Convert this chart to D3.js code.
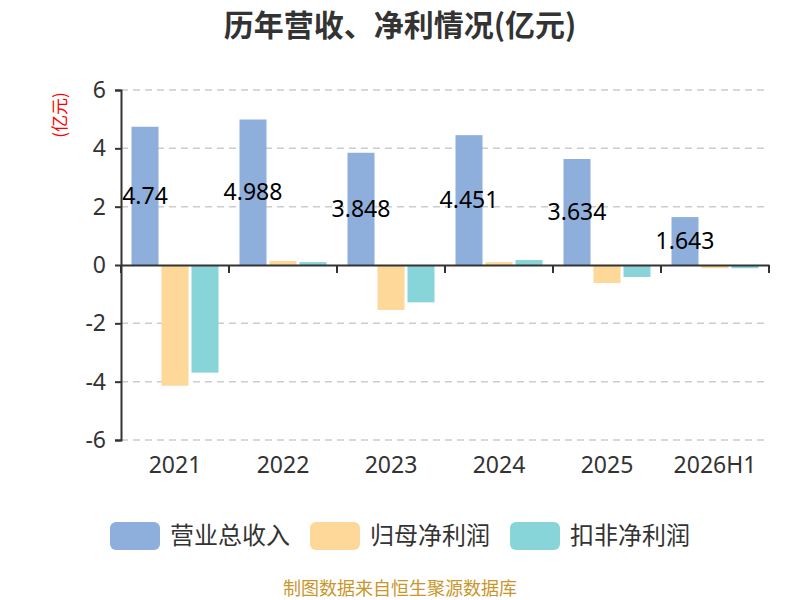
<!DOCTYPE html>
<html>
<head>
<meta charset="utf-8">
<script src="https://cdn.jsdelivr.net/npm/d3@7"></script>
<style>
  body { margin: 0; background: #fff; }
  svg { font-family: "Noto Sans CJK SC", "Noto Sans", sans-serif; }
</style>
</head>
<body>
<svg id="chart" width="800" height="600"></svg>
<script>
const categories = ['2021', '2022', '2023', '2024', '2025', '2026H1']
const seriesNames = ['营业总收入', '归母净利润', '扣非净利润']
const revenue = [4.74, 4.988, 3.848, 4.451, 3.634, 1.643]
const netProfit = [-4.14, 0.14, -1.54, 0.10, -0.62, -0.11]
const deductedProfit = [-3.69, 0.10, -1.28, 0.17, -0.41, -0.11]
const yTicks = [-6, -4, -2, 0, 2, 4, 6]
const colors = ['#8eaedb', '#fed899', '#87d5d8']

const seriesValues = [revenue, netProfit, deductedProfit]
const rows = categories.map((cat, i) => ({cat, values: seriesValues.map(s => s[i])}))

const svg = d3.select('#chart')
const plotLeft = 121, plotRight = 769, plotTop = 90, plotBottom = 440
const numFont = '"Noto Sans", sans-serif'

const x = d3.scaleBand().domain(categories).range([plotLeft, plotRight])
const x1 = d3.scaleBand().domain(d3.range(seriesNames.length))
  .range([10.5, x.bandwidth() - 10.5]).paddingInner(0.1)
const y = d3.scaleLinear().domain([-6, 6]).range([plotBottom, plotTop])

// grid
svg.append('g').selectAll('line').data(yTicks.filter(d => d !== 0)).join('line')
  .attr('x1', plotLeft).attr('x2', plotRight)
  .attr('y1', d => y(d)).attr('y2', d => y(d))
  .attr('stroke', '#ccc').attr('stroke-width', 1.5).attr('stroke-dasharray', '7,5')

// bars
const groups = svg.append('g').selectAll('g').data(rows).join('g')
  .attr('transform', d => `translate(${x(d.cat)},0)`)
groups.selectAll('rect').data(d => d.values).join('rect')
  .attr('x', (d, i) => x1(i))
  .attr('width', x1.bandwidth())
  .attr('y', d => y(Math.max(0, d)))
  .attr('height', d => Math.abs(y(d) - y(0)))
  .attr('fill', (d, i) => colors[i])

// labels for revenue
svg.append('g').selectAll('text').data(rows).join('text')
  .attr('x', d => x(d.cat) + x1(0) + x1.bandwidth() / 2)
  .attr('y', d => (y(d.values[0]) + y(0)) / 2)
  .attr('dy', '0.35em')
  .attr('text-anchor', 'middle')
  .attr('font-size', 23).attr('fill', '#000').attr('font-family', numFont)
  .text(d => d.values[0])

// y axis
const yAxis = svg.append('g').attr('transform', `translate(${plotLeft},0)`)
  .call(d3.axisLeft(y).tickValues(yTicks).tickSize(6).tickPadding(9).tickFormat(d => String(d)))
yAxis.select('.domain').attr('stroke', '#333').attr('stroke-width', 2)
yAxis.selectAll('.tick line').attr('stroke', '#333').attr('stroke-width', 2)
yAxis.selectAll('.tick text').attr('font-size', 23).attr('fill', '#333')
  .attr('font-family', numFont)

// x axis at zero
const xAxis = svg.append('g').attr('transform', `translate(0,${y(0)})`)
  .call(d3.axisBottom(x).tickSize(0).tickFormat(''))
xAxis.select('.domain').attr('stroke', '#333').attr('stroke-width', 2)
svg.append('g').selectAll('line').data(d3.range(categories.length + 1)).join('line')
  .attr('x1', i => plotLeft + i * x.step()).attr('x2', i => plotLeft + i * x.step())
  .attr('y1', y(0)).attr('y2', y(0) + 8)
  .attr('stroke', '#333').attr('stroke-width', 2)
svg.append('g').selectAll('text').data(categories).join('text')
  .attr('x', d => x(d) + x.bandwidth() / 2)
  .attr('y', plotBottom + 25).attr('dy', '0.35em')
  .attr('text-anchor', 'middle')
  .attr('font-size', 23).attr('fill', '#333')
  .attr('font-family', numFont)
  .text(d => d)

// title
svg.append('text').attr('x', 400).attr('y', 25).attr('dy', '0.35em')
  .attr('text-anchor', 'middle').attr('font-size', 30).attr('font-weight', 'bold')
  .attr('fill', '#333').text('历年营收、净利情况(亿元)')

// unit
svg.append('text').attr('transform', 'translate(60,115) rotate(-90)')
  .attr('dy', '0.35em').attr('text-anchor', 'middle')
  .attr('font-size', 17).attr('fill', '#f00').text('(亿元)')

// legend
const legendX = [110, 310, 510]
const legend = svg.append('g').selectAll('g').data(seriesNames).join('g')
  .attr('transform', (d, i) => `translate(${legendX[i]},522)`)
legend.append('rect').attr('width', 50).attr('height', 28).attr('rx', 6)
  .attr('fill', (d, i) => colors[i])
legend.append('text').attr('x', 60).attr('y', 14).attr('dy', '0.35em')
  .attr('font-size', 24).attr('fill', '#333').text(d => d)

// footer
svg.append('text').attr('x', 400).attr('y', 589).attr('dy', '0.35em')
  .attr('text-anchor', 'middle').attr('font-size', 18).attr('fill', '#c9962c')
  .text('制图数据来自恒生聚源数据库')
</script>
</body>
</html>
